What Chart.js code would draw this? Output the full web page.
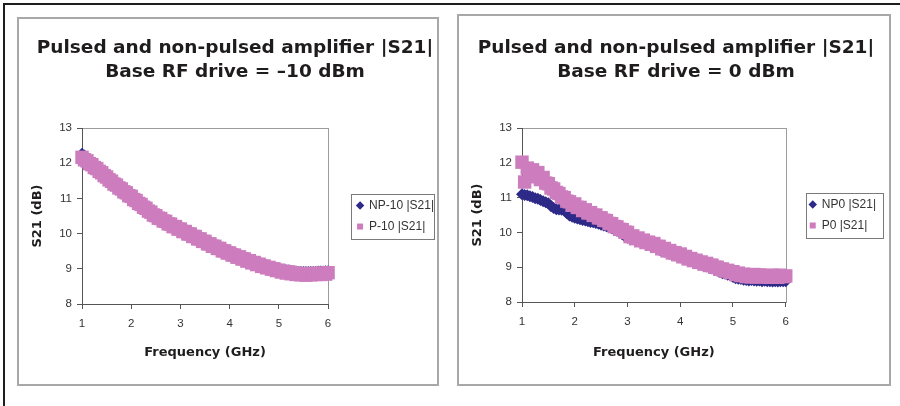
<!DOCTYPE html>
<html>
<head>
<meta charset="utf-8">
<title>Pulsed and non-pulsed amplifier |S21|</title>
<script src="https://cdn.jsdelivr.net/npm/chart.js@4.4.1/dist/chart.umd.min.js"></script>
<style>
  html, body { margin: 0; padding: 0; background: #fff; }
  body { width: 900px; height: 406px; position: relative; overflow: hidden; }
  .frame-top { position: absolute; left: 3px; top: 3px; width: 897px; height: 2px; background: #1e1e1e; }
  .frame-left { position: absolute; left: 3px; top: 3px; width: 2px; height: 403px; background: #1e1e1e; }
  .panel { position: absolute; border: 2px solid #a8a8a8; background: #fff; }
  #p1 { left: 17px; top: 17px; width: 418px; height: 365px; }
  #p2 { left: 457px; top: 14px; width: 430px; height: 368px; }
  canvas { display: block; }
</style>
</head>
<body>
<div class="frame-top"></div>
<div class="frame-left"></div>
<div class="panel" id="p1"><canvas id="chartLeft" width="418" height="365"></canvas></div>
<div class="panel" id="p2"><canvas id="chartRight" width="430" height="368"></canvas></div>

<script>
// Frequency sweep (GHz), shared by all four series
const freqGHz = [
  1.00, 1.05, 1.10, 1.15, 1.20, 1.25, 1.30, 1.35, 1.40, 1.45,
  1.50, 1.55, 1.60, 1.65, 1.70, 1.75, 1.80, 1.85, 1.90, 1.95,
  2.00, 2.05, 2.10, 2.15, 2.20, 2.25, 2.30, 2.35, 2.40, 2.45,
  2.50, 2.55, 2.60, 2.65, 2.70, 2.75, 2.80, 2.85, 2.90, 2.95,
  3.00, 3.05, 3.10, 3.15, 3.20, 3.25, 3.30, 3.35, 3.40, 3.45,
  3.50, 3.55, 3.60, 3.65, 3.70, 3.75, 3.80, 3.85, 3.90, 3.95,
  4.00, 4.05, 4.10, 4.15, 4.20, 4.25, 4.30, 4.35, 4.40, 4.45,
  4.50, 4.55, 4.60, 4.65, 4.70, 4.75, 4.80, 4.85, 4.90, 4.95,
  5.00, 5.05, 5.10, 5.15, 5.20, 5.25, 5.30, 5.35, 5.40, 5.45,
  5.50, 5.55, 5.60, 5.65, 5.70, 5.75, 5.80, 5.85, 5.90, 5.95,
  6.00
];

// Base RF drive = -10 dBm
const np10 = [
  12.30, 12.25, 12.19, 12.13, 12.07, 12.01, 11.95, 11.89, 11.83, 11.77,
  11.71, 11.65, 11.59, 11.53, 11.47, 11.42, 11.36, 11.31, 11.25, 11.20,
  11.15, 11.09, 11.04, 10.98, 10.93, 10.87, 10.82, 10.76, 10.71, 10.66,
  10.61, 10.56, 10.52, 10.47, 10.43, 10.39, 10.35, 10.31, 10.28, 10.24,
  10.21, 10.17, 10.14, 10.10, 10.07, 10.03, 10.00, 9.96, 9.93, 9.89,
  9.86, 9.82, 9.79, 9.75, 9.72, 9.69, 9.66, 9.62, 9.59, 9.56,
  9.53, 9.50, 9.47, 9.44, 9.41, 9.38, 9.35, 9.33, 9.30, 9.28,
  9.25, 9.23, 9.20, 9.18, 9.15, 9.13, 9.11, 9.09, 9.07, 9.05,
  9.03, 9.01, 9.00, 8.99, 8.98, 8.97, 8.96, 8.95, 8.94, 8.94,
  8.94, 8.94, 8.94, 8.94, 8.94, 8.94, 8.95, 8.95, 8.95, 8.96,
  8.96
];
const p10 = [
  12.17, 12.10, 12.07, 11.99, 11.96, 11.88, 11.85, 11.77, 11.73, 11.65,
  11.61, 11.53, 11.49, 11.41, 11.38, 11.30, 11.27, 11.19, 11.16, 11.08,
  11.06, 10.97, 10.94, 10.86, 10.83, 10.75, 10.72, 10.64, 10.61, 10.53,
  10.51, 10.44, 10.43, 10.36, 10.35, 10.28, 10.27, 10.20, 10.20, 10.13,
  10.13, 10.06, 10.06, 9.99, 9.99, 9.92, 9.92, 9.85, 9.85, 9.78,
  9.78, 9.71, 9.71, 9.64, 9.64, 9.58, 9.58, 9.51, 9.51, 9.45,
  9.45, 9.39, 9.39, 9.33, 9.34, 9.28, 9.28, 9.22, 9.23, 9.17,
  9.18, 9.12, 9.13, 9.07, 9.08, 9.03, 9.04, 8.99, 9.00, 8.95,
  8.96, 8.91, 8.93, 8.88, 8.91, 8.86, 8.89, 8.84, 8.87, 8.83,
  8.86, 8.82, 8.86, 8.83, 8.87, 8.84, 8.87, 8.84, 8.88, 8.85,
  8.89
];

// Base RF drive = 0 dBm
const np0 = [
  11.10, 11.08, 11.07, 11.04, 11.02, 10.98, 10.97, 10.93, 10.90, 10.87,
  10.84, 10.75, 10.70, 10.67, 10.66, 10.65, 10.63, 10.55, 10.49, 10.45,
  10.42, 10.40, 10.38, 10.36, 10.34, 10.32, 10.30, 10.29, 10.27, 10.25,
  10.22, 10.20, 10.18, 10.15, 10.12, 10.08, 10.05, 10.01, 9.95, 9.88,
  9.85, 9.84, 9.82, 9.79, 9.77, 9.74, 9.71, 9.68, 9.65, 9.62,
  9.58, 9.55, 9.50, 9.46, 9.45, 9.42, 9.39, 9.36, 9.34, 9.31,
  9.29, 9.26, 9.23, 9.20, 9.17, 9.15, 9.12, 9.09, 9.07, 9.04,
  9.02, 8.99, 8.96, 8.93, 8.90, 8.86, 8.83, 8.81, 8.78, 8.76,
  8.72, 8.68, 8.67, 8.66, 8.64, 8.63, 8.62, 8.63, 8.62, 8.61,
  8.62, 8.60, 8.61, 8.60, 8.60, 8.59, 8.60, 8.59, 8.60, 8.60,
  8.60
];
const p0 = [
  12.02, 11.45, 11.85, 11.60, 11.80, 11.62, 11.72, 11.52, 11.58, 11.42,
  11.40, 11.28, 11.25, 11.15, 11.12, 11.02, 11.00, 10.90, 10.88, 10.78,
  10.82, 10.72, 10.72, 10.63, 10.65, 10.56, 10.57, 10.49, 10.50, 10.42,
  10.42, 10.35, 10.34, 10.26, 10.25, 10.17, 10.16, 10.09, 10.08, 10.01,
  10.00, 9.88, 9.90, 9.82, 9.84, 9.76, 9.78, 9.71, 9.72, 9.66,
  9.68, 9.60, 9.60, 9.53, 9.54, 9.47, 9.48, 9.41, 9.42, 9.36,
  9.38, 9.30, 9.31, 9.24, 9.25, 9.19, 9.20, 9.14, 9.15, 9.09,
  9.11, 9.05, 9.06, 9.00, 9.00, 8.94, 8.95, 8.89, 8.91, 8.85,
  8.87, 8.79, 8.83, 8.76, 8.80, 8.73, 8.78, 8.72, 8.79, 8.72,
  8.78, 8.75, 8.72, 8.76, 8.71, 8.77, 8.73, 8.71, 8.77, 8.73,
  8.75
];

const xTicks = [1, 2, 3, 4, 5, 6];
const yTicks = [8, 9, 10, 11, 12, 13];

const NAVY = '#2e2a88';
const PINK = '#cd7dbe';
const SANS = '"Liberation Sans", Arial, sans-serif';
const HEAVY = '"DejaVu Sans", sans-serif';

const toPoints = vals => freqGHz.map((f, i) => ({ x: f, y: vals[i] }));

// light grey box round the plot area (axes redraw left/bottom darker)
const plotFrame = {
  id: 'plotFrame',
  beforeDraw(chart) {
    const { ctx, chartArea: a } = chart;
    ctx.save();
    ctx.strokeStyle = '#9c9c9c';
    ctx.lineWidth = 1;
    ctx.strokeRect(Math.round(a.left) + 0.5, Math.round(a.top) + 0.5,
      Math.round(a.right - a.left), Math.round(a.bottom - a.top));
    ctx.restore();
  }
};

// Excel-style border round the legend entries
const legendFrame = {
  id: 'legendFrame',
  afterDraw(chart, args, opts) {
    const boxes = chart.legend && chart.legend.legendHitBoxes;
    if (!boxes || !boxes.length) return;
    const l = Math.min(...boxes.map(b => b.left)) - opts.padL;
    const t = Math.min(...boxes.map(b => b.top)) - opts.padY;
    const r = Math.max(...boxes.map(b => b.left + b.width)) + opts.padR;
    const b = Math.max(...boxes.map(b => b.top + b.height)) + opts.padY;
    const { ctx } = chart;
    ctx.save();
    ctx.strokeStyle = '#7a7a7a';
    ctx.lineWidth = 1;
    ctx.strokeRect(Math.round(l) + 0.5, Math.round(t) + 0.5, Math.round(r - l), Math.round(b - t));
    ctx.restore();
  }
};

function buildChart(id, title, npLabel, npVals, pLabel, pVals, geo) {
  return new Chart(document.getElementById(id), {
    type: 'scatter',
    data: {
      datasets: [
        {
          label: npLabel, data: toPoints(npVals),
          pointStyle: 'rectRot', pointRadius: geo.npRadius,
          backgroundColor: NAVY, borderColor: NAVY, borderWidth: 0,
          order: 2, clip: false
        },
        {
          label: pLabel, data: toPoints(pVals),
          pointStyle: 'rect', pointRadius: 9.5,
          backgroundColor: PINK, borderColor: PINK, borderWidth: 0,
          order: 1, clip: false
        }
      ]
    },
    options: {
      responsive: false,
      animation: false,
      events: [],
      layout: { padding: { left: 7, top: geo.top, right: geo.right, bottom: geo.bottom } },
      plugins: {
        title: {
          display: true, text: title, color: '#1f1c1d',
          font: { family: HEAVY, size: 18.5, weight: 'bold', lineHeight: 1.3 },
          padding: { top: 10, bottom: 44 }
        },
        legend: {
          position: 'right',
          fullSize: false,
          maxWidth: 160,
          labels: {
            usePointStyle: true, boxWidth: 6, boxHeight: 6, padding: 9,
            color: '#333', font: { family: SANS, size: 12 },
            sort: (a, b) => a.datasetIndex - b.datasetIndex
          }
        },
        tooltip: { enabled: false },
        legendFrame: { padL: geo.legPadL, padR: geo.legPadR, padY: 6 }
      },
      scales: {
        x: {
          type: 'linear', min: 1, max: 6,
          afterBuildTicks: s => { s.ticks = xTicks.map(v => ({ value: v })); },
          ticks: { color: '#333', font: { family: SANS, size: 11.5 }, padding: 8 },
          grid: { drawOnChartArea: false, tickLength: 5, color: '#555' },
          border: { color: '#555' },
          title: {
            display: true, text: 'Frequency (GHz)', color: '#1f1c1d',
            font: { family: HEAVY, size: 13, weight: 'bold' }
          },
          afterFit: s => { s.height = geo.xh; }
        },
        y: {
          type: 'linear', min: 8, max: 13,
          afterBuildTicks: s => { s.ticks = yTicks.map(v => ({ value: v })); },
          ticks: { color: '#333', font: { family: SANS, size: 11.5 }, padding: 5 },
          grid: { drawOnChartArea: false, tickLength: 5, color: '#555' },
          border: { color: '#555' },
          title: {
            display: true, text: 'S21 (dB)', color: '#1f1c1d',
            font: { family: HEAVY, size: 13, weight: 'bold' }
          },
          afterFit: s => { s.width = 56; }
        },
        gap: {
          type: 'linear', position: 'right', display: true,
          grid: { display: false }, border: { display: false }, ticks: { display: false },
          afterFit: s => { s.width = geo.gap; }
        }
      }
    },
    plugins: [plotFrame, legendFrame]
  });
}

buildChart('chartLeft',
  ['Pulsed and non-pulsed amplifier |S21|', 'Base RF drive = \u201310 dBm'],
  'NP-10 |S21|', np10, 'P-10 |S21|', p10,
  { top: 7, bottom: 20, right: -7, xh: 60, gap: 20, legPadL: 6, legPadR: 0, npRadius: 5 });

buildChart('chartRight',
  ['Pulsed and non-pulsed amplifier |S21|', 'Base RF drive = 0 dBm'],
  'NP0 |S21|', np0, 'P0 |S21|', p0,
  { top: 10, bottom: 20, right: 3, xh: 62, gap: 15, legPadL: 4, legPadR: 7, npRadius: 6 });
</script>
</body>
</html>
